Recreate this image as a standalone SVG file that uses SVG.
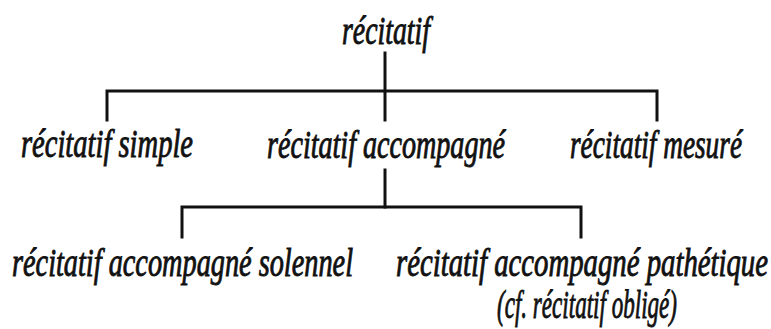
<svg xmlns="http://www.w3.org/2000/svg" width="771" height="329" viewBox="0 0 771 329">
<style>
.lbl{font-family:"Liberation Serif","DejaVu Serif",serif;font-style:italic;font-size:39px;fill:#111;stroke:#111;stroke-width:0.9}
.con{stroke:#111;stroke-width:3;fill:none;stroke-linecap:square}
</style>
<rect width="771" height="329" fill="#fff"/>
<g id="connectors">
<path class="con" d="M385 53V120"/>
<path class="con" d="M107 120V91H657V120"/>
<path class="con" d="M385 170V207"/>
<path class="con" d="M182 237V207H581V237"/>
</g>
<g id="n-recitatif"><text class="lbl" x="342" y="44" textLength="88" lengthAdjust="spacingAndGlyphs">récitatif</text></g>
<g id="n-simple"><text class="lbl" x="21" y="157" textLength="172" lengthAdjust="spacingAndGlyphs">récitatif simple</text></g>
<g id="n-accompagne"><text class="lbl" x="267" y="158" textLength="238" lengthAdjust="spacingAndGlyphs">récitatif accompagné</text></g>
<g id="n-mesure"><text class="lbl" x="570" y="158" textLength="172" lengthAdjust="spacingAndGlyphs">récitatif mesuré</text></g>
<g id="n-solennel"><text class="lbl" x="12" y="276" textLength="341" lengthAdjust="spacingAndGlyphs">récitatif accompagné solennel</text></g>
<g id="n-pathetique"><text class="lbl" x="396" y="276" textLength="372" lengthAdjust="spacingAndGlyphs">récitatif accompagné pathétique</text>
<text class="lbl" x="497" y="318" textLength="180" lengthAdjust="spacingAndGlyphs">(cf. récitatif obligé)</text></g>
</svg>
